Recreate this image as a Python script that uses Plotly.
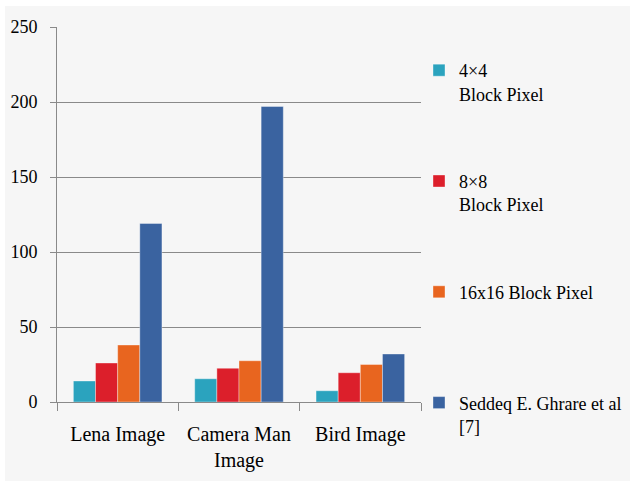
import plotly.graph_objects as go

categories = ["Lena Image", "Camera Man<br>Image", "Bird Image"]
series_names = ["4×4<br>Block Pixel", "8×8<br>Block Pixel", "16x16 Block Pixel<br> ", "Seddeq E. Ghrare et al<br>[7]"]
block4 = [14, 15.5, 7.5]
block8 = [26, 22.5, 19.5]
block16 = [38, 27.5, 25]
seddeq = [119, 197, 32]
colors = ["#2BA3BE", "#DC1F2B", "#E8651F", "#3A63A0"]
y_ticks = [0, 50, 100, 150, 200, 250]

FONT = "Liberation Serif"
W, H = 630, 481
L, R, T, B = 57, 209, 27, 79
pw, ph = W - L - R, H - T - B

fig = go.Figure()
for i, (name, vals) in enumerate(zip(series_names, [block4, block8, block16, seddeq])):
    fig.add_trace(go.Bar(
        x=categories, y=vals, name=name, legendgroup=f"g{i}",
        marker=dict(color=colors[i], line=dict(width=0.6, color="rgba(255,255,255,0.6)")),
    ))

def px_x(p):
    return (p - L) / pw

def px_y(p):
    return 1 - (p - T) / ph

# white border at top/left of the slide-like background
fig.add_shape(type="rect", xref="paper", yref="paper", x0=px_x(0), x1=px_x(W), y0=px_y(0), y1=px_y(6),
              fillcolor="white", line=dict(width=0), layer="below")
fig.add_shape(type="rect", xref="paper", yref="paper", x0=px_x(0), x1=px_x(5), y0=px_y(H), y1=px_y(0),
              fillcolor="white", line=dict(width=0), layer="below")

fig.update_layout(
    width=W, height=H,
    margin=dict(l=L, r=R, t=T, b=B, autoexpand=False),
    paper_bgcolor="#f6f6f6", plot_bgcolor="#f6f6f6",
    barmode="group", bargap=0.27, bargroupgap=0,
    font=dict(family=FONT, size=18, color="#000000"),
    legend=dict(
        x=px_x(419), y=px_y(52), xanchor="left", yanchor="top",
        font=dict(family=FONT, size=18, color="#000000"),
        tracegroupgap=61, valign="top", bgcolor="rgba(0,0,0,0)",
        maxheight=470,
    ),
    showlegend=True,
)
fig.update_xaxes(
    showline=True, linecolor="#8a8a8a", linewidth=1,
    ticks="outside", tickson="boundaries", ticklen=8, tickcolor="#8a8a8a",
    tickfont=dict(family=FONT, size=20, color="#000000"),
    ticklabelstandoff=14,
    showgrid=False, automargin=False,
)
fig.update_yaxes(
    range=[0, 250], tickvals=y_ticks, showline=True, linecolor="#8a8a8a", linewidth=1,
    ticks="outside", ticklen=6, tickcolor="#8a8a8a",
    gridcolor="#8a8a8a", gridwidth=1, zeroline=False, automargin=False,
    tickfont=dict(family=FONT, size=18, color="#000000"),
    ticklabelstandoff=9,
)

fig.write_html(
    "out.html",
    config={"displayModeBar": False},
    post_script="document.body.style.margin='0';document.body.style.overflow='hidden';",
)
